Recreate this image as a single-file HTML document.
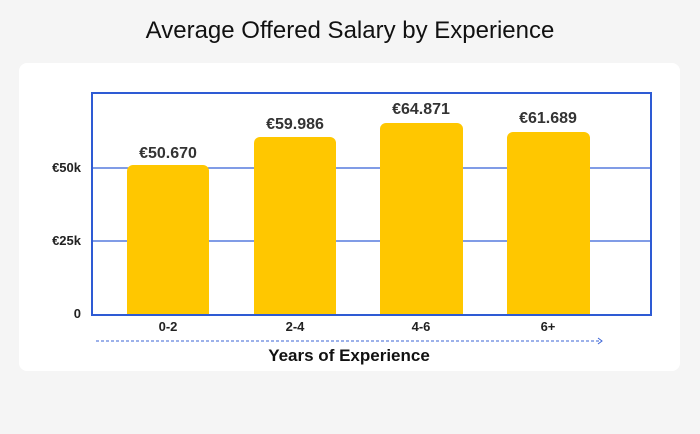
<!DOCTYPE html>
<html><head><meta charset="utf-8"><style>
html,body{margin:0;width:700px;height:434px;background:#f5f5f5;font-family:"Liberation Sans",sans-serif;overflow:hidden}
svg{display:block}
</style></head><body>
<svg width="700" height="434" xmlns="http://www.w3.org/2000/svg" font-family="Liberation Sans, sans-serif">
<text x="350" y="38" text-anchor="middle" font-size="24" fill="#111">Average Offered Salary by Experience</text>
<rect x="19" y="63" width="661" height="308" rx="8" fill="#fff"/>
<line x1="92" y1="168" x2="651" y2="168" stroke="#3560d8" stroke-width="1.3"/>
<line x1="92" y1="241" x2="651" y2="241" stroke="#3560d8" stroke-width="1.3"/>
<g fill="#ffc700">
<path d="M127,315 V171 a6,6 0 0 1 6,-6 H203 a6,6 0 0 1 6,6 V315Z"/>
<path d="M254,315 V143 a6,6 0 0 1 6,-6 H330 a6,6 0 0 1 6,6 V315Z"/>
<path d="M380,315 V129 a6,6 0 0 1 6,-6 H457 a6,6 0 0 1 6,6 V315Z"/>
<path d="M507,315 V138 a6,6 0 0 1 6,-6 H584 a6,6 0 0 1 6,6 V315Z"/>
</g>
<rect x="92" y="93" width="559" height="222" fill="none" stroke="#2e5bd4" stroke-width="2"/>
<g font-size="16" font-weight="bold" fill="#333" text-anchor="middle">
<text x="168" y="158">€50.670</text>
<text x="295" y="129">€59.986</text>
<text x="421" y="114">€64.871</text>
<text x="548" y="123">€61.689</text>
</g>
<g font-size="13" font-weight="bold" fill="#222" text-anchor="end">
<text x="81" y="172">€50k</text>
<text x="81" y="245">€25k</text>
<text x="81" y="318">0</text>
</g>
<g font-size="13" font-weight="bold" fill="#222" text-anchor="middle">
<text x="168" y="331">0-2</text>
<text x="295" y="331">2-4</text>
<text x="421" y="331">4-6</text>
<text x="548" y="331">6+</text>
</g>
<line x1="96" y1="341" x2="601" y2="341" stroke="#3a63d6" stroke-width="1" stroke-dasharray="3,2"/>
<path d="M598,338 L602,341 L598,344" fill="none" stroke="#3a63d6" stroke-width="1"/>
<text x="349" y="361" text-anchor="middle" font-size="17" font-weight="bold" fill="#111">Years of Experience</text>
</svg>
</body></html>
